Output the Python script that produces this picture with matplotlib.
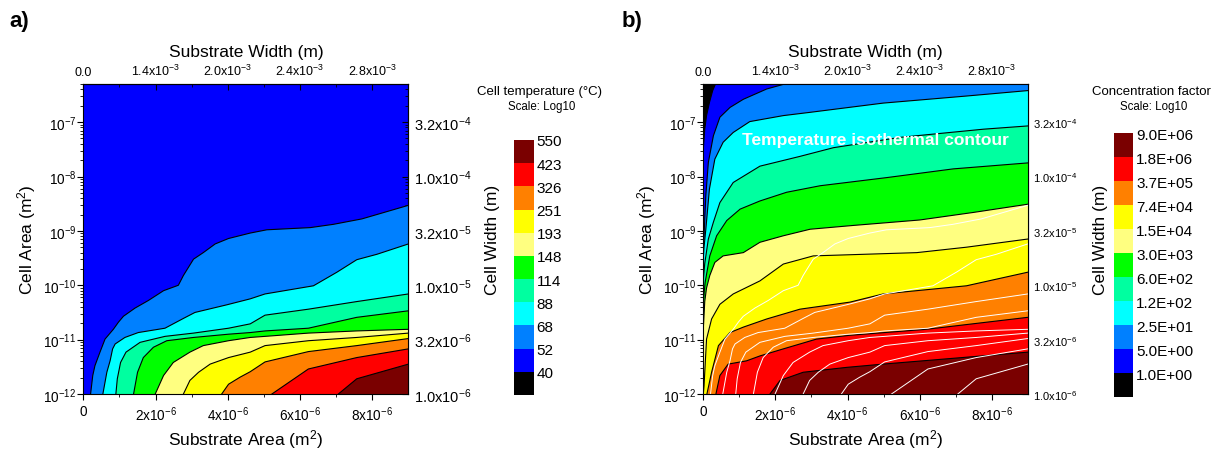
import numpy as np
import matplotlib
matplotlib.use('Agg')
import matplotlib.pyplot as plt
from matplotlib.colors import ListedColormap, BoundaryNorm
from matplotlib.cm import ScalarMappable
from matplotlib.ticker import LogLocator, NullFormatter

plt.rcParams['font.family'] = 'Liberation Sans'
plt.rcParams['mathtext.fontset'] = 'custom'
plt.rcParams['mathtext.rm'] = 'Liberation Sans'
plt.rcParams['mathtext.default'] = 'regular'

# x values in units of 1e-6 m2 (substrate area), y values as log10 of cell area (m2)
# panel a: cell temperature isotherms (lower edge of each level, °C)
temp_levels = [40, 52, 68, 88, 114, 148, 193, 251, 326, 423, 550]
temp_x = [
    [0.20, 0.26, 0.32, 0.46, 0.60, 0.83, 0.97, 1.11, 1.43, 1.80, 2.22, 2.63, 2.77, 3.05, 3.32, 3.65, 4.02, 4.62, 5.08, 6.28, 6.92, 7.71, 9.0],
    [0.54, 0.65, 0.74, 0.81, 0.88, 1.15, 1.52, 2.26, 2.77, 3.09, 3.97, 4.62, 5.03, 6.37, 7.02, 7.57, 8.13, 9.0],
    [0.90, 0.94, 1.03, 1.18, 1.57, 2.26, 3.05, 4.02, 4.62, 5.03, 6.23, 7.57, 9.0],
    [1.39, 1.50, 1.66, 1.94, 2.31, 3.05, 4.02, 4.62, 5.03, 6.23, 7.57, 9.0],
    [1.99, 2.22, 2.49, 2.95, 3.32, 4.02, 4.62, 5.03, 6.23, 7.57, 9.0],
    [2.77, 2.95, 3.19, 3.51, 4.02, 4.62, 5.03, 6.23, 7.57, 9.0],
    [3.83, 4.02, 4.34, 4.62, 5.03, 6.23, 7.57, 9.0],
    [5.22, 6.23, 7.57, 9.0],
    [7.06, 7.57, 9.0],
]
temp_logy = [
    [-12.00, -11.66, -11.48, -11.23, -10.99, -10.81, -10.68, -10.57, -10.42, -10.28, -10.10, -10.00, -9.82, -9.52, -9.40, -9.24, -9.14, -9.04, -8.98, -8.94, -8.88, -8.78, -8.53],
    [-12.00, -11.60, -11.39, -11.17, -11.08, -10.96, -10.87, -10.79, -10.61, -10.50, -10.36, -10.25, -10.16, -10.01, -9.76, -9.53, -9.43, -9.24],
    [-12.00, -11.72, -11.42, -11.23, -11.05, -10.94, -10.88, -10.79, -10.71, -10.55, -10.44, -10.30, -10.16],
    [-12.00, -11.60, -11.33, -11.14, -11.02, -10.96, -10.90, -10.87, -10.84, -10.79, -10.59, -10.47],
    [-12.00, -11.66, -11.42, -11.23, -11.11, -11.02, -10.96, -10.94, -10.88, -10.84, -10.81],
    [-12.00, -11.75, -11.60, -11.45, -11.33, -11.23, -11.11, -11.02, -10.96, -10.88],
    [-12.00, -11.82, -11.69, -11.59, -11.41, -11.22, -11.11, -10.98],
    [-12.00, -11.54, -11.33, -11.17],
    [-12.00, -11.72, -11.45],
]

# panel b: concentration factor contours
conc_levels = [1.0, 5.0, 25, 120, 600, 3000, 1.5e4, 7.4e4, 3.7e5, 1.8e6, 9.0e6]
conc_x = [
    [0.0, 0.04, 0.09, 0.17, 0.26, 0.35],
    [0.0, 0.02, 0.07, 0.14, 0.28, 0.46, 0.74, 1.11, 1.76, 2.36],
    [0.0, 0.02, 0.07, 0.17, 0.32, 0.55, 0.83, 1.29, 2.22, 2.96, 4.99, 7.30, 9.0],
    [0.0, 0.04, 0.14, 0.28, 0.46, 0.83, 1.57, 2.68, 3.61, 5.46, 7.77, 9.0],
    [0.0, 0.05, 0.18, 0.37, 0.65, 1.02, 1.57, 2.31, 3.24, 5.09, 6.93, 9.0],
    [0.0, 0.04, 0.09, 0.18, 0.32, 0.55, 1.11, 1.57, 2.22, 2.96, 4.16, 6.00, 7.50, 9.0],
    [0.0, 0.02, 0.09, 0.23, 0.46, 0.83, 1.57, 2.22, 3.05, 5.92, 7.30, 9.0],
    [0.10, 0.23, 0.42, 0.74, 1.11, 1.76, 2.68, 4.07, 4.99, 7.30, 9.0],
    [0.35, 0.46, 0.69, 1.20, 1.57, 2.22, 3.14, 4.07, 6.19, 9.0],
    [1.85, 2.13, 2.77, 3.98, 4.99, 9.0],
]
conc_logy = [
    [-7.50, -7.13, -6.88, -6.64, -6.42, -6.28],
    [-9.20, -9.09, -8.35, -7.74, -7.25, -6.91, -6.73, -6.58, -6.39, -6.28],
    [-9.50, -9.30, -8.97, -8.23, -7.68, -7.37, -7.19, -6.99, -6.88, -6.82, -6.65, -6.52, -6.42],
    [-9.90, -9.60, -9.15, -8.84, -8.48, -8.11, -7.81, -7.63, -7.47, -7.28, -7.13, -7.07],
    [-10.30, -9.95, -9.46, -9.09, -8.81, -8.60, -8.45, -8.29, -8.17, -8.02, -7.86, -7.75],
    [-10.80, -10.30, -10.05, -9.82, -9.58, -9.46, -9.40, -9.21, -9.09, -8.97, -8.90, -8.80, -8.66, -8.51],
    [-12.00, -11.85, -10.99, -10.62, -10.35, -10.16, -9.92, -9.61, -9.46, -9.40, -9.30, -9.15],
    [-12.00, -11.60, -11.11, -10.87, -10.77, -10.62, -10.44, -10.31, -10.16, -10.01, -9.76],
    [-12.00, -11.66, -11.45, -11.39, -11.30, -11.17, -10.99, -10.92, -10.81, -10.59],
    [-12.00, -11.75, -11.60, -11.51, -11.45, -11.23],
]

level_colors = ['#000000', '#0000ff', '#0080ff', '#00ffff', '#00ffa0', '#00ff00',
                '#ffff80', '#ffff00', '#ff8000', '#ff0000', '#7a0000']

area_ticks = [0, 2e-6, 4e-6, 6e-6, 8e-6]
area_labels = ['0', '$2x10^{-6}$', '$4x10^{-6}$', '$6x10^{-6}$', '$8x10^{-6}$']
width_labels = ['0.0', '$1.4x10^{-3}$', '$2.0x10^{-3}$', '$2.4x10^{-3}$', '$2.8x10^{-3}$']
cell_ticks = [1e-12, 1e-11, 1e-10, 1e-9, 1e-8, 1e-7]
cell_labels = ['$10^{-12}$', '$10^{-11}$', '$10^{-10}$', '$10^{-9}$', '$10^{-8}$', '$10^{-7}$']
cwidth_labels = ['$1.0x10^{-6}$', '$3.2x10^{-6}$', '$1.0x10^{-5}$', '$3.2x10^{-5}$',
                 '$1.0x10^{-4}$', '$3.2x10^{-4}$']

XMAX = 9e-6
YMIN, YMAX = 1e-12, 10 ** -6.29


def fill_above(ax, xs, ly, color):
    # region to the lower right of a contour line
    x = np.array(xs) * 1e-6
    y = 10.0 ** np.array(ly)
    px = np.concatenate([x, [2 * XMAX, 2 * XMAX, x[0]]])
    py = np.concatenate([y, [1e-3, 1e-15, 1e-15]])
    ax.fill(px, py, color=color, lw=0)


def setup_axes(ax, right_size):
    ax.set_xlim(0, XMAX)
    ax.set_yscale('log')
    ax.set_ylim(YMIN, YMAX)
    ax.set_xticks(area_ticks, area_labels)
    ax.set_xticks([1e-6, 3e-6, 5e-6, 7e-6], minor=True)
    ax.set_yticks(cell_ticks, cell_labels)
    ax.yaxis.set_minor_locator(LogLocator(subs=np.arange(2, 10)))
    ax.yaxis.set_minor_formatter(NullFormatter())
    ax.tick_params(which='major', direction='out', length=4, labelsize=9.8)
    ax.tick_params(which='minor', direction='out', length=2.5)
    ax.tick_params(axis='y', pad=1)
    ax.set_xlabel('Substrate Area (m$^2$)', fontsize=12.5, labelpad=3)
    ax.set_ylabel('Cell Area (m$^2$)', fontsize=12.5, labelpad=4)

    top = ax.secondary_xaxis('top')
    top.set_xticks(area_ticks, width_labels)
    top.set_xticks([1e-6, 3e-6, 5e-6, 7e-6], minor=True)
    top.tick_params(which='major', direction='in', length=4, labelsize=9, pad=4)
    top.tick_params(which='minor', direction='in', length=2.5)
    top.set_xlabel('Substrate Width (m)', fontsize=12.5, labelpad=5)

    right = ax.secondary_yaxis('right')
    right.set_yticks(cell_ticks, cwidth_labels)
    right.yaxis.set_minor_locator(LogLocator(subs=np.arange(2, 10)))
    right.yaxis.set_minor_formatter(NullFormatter())
    right.tick_params(which='major', direction='in', length=4, labelsize=right_size, pad=4)
    right.tick_params(which='minor', direction='in', length=2.5)
    return right


def add_colorbar(fig, rect, levels, labels, title, tx, ty):
    cax = fig.add_axes(rect)
    cmap = ListedColormap(level_colors[1:])
    cmap.set_under(level_colors[0])
    norm = BoundaryNorm(levels, cmap.N)
    cb = fig.colorbar(ScalarMappable(norm=norm, cmap=cmap), cax=cax, extend='min',
                      extendrect=True, extendfrac='auto', spacing='uniform', ticks=levels)
    cb.set_ticklabels(labels)
    cb.outline.set_visible(False)
    cax.tick_params(length=0, labelsize=11, pad=2)
    fig.text(tx, ty, title, ha='center', va='center', fontsize=9.5)
    fig.text(tx + 0.002, ty - 0.033, 'Scale: Log10', ha='center', va='center', fontsize=8.3)


fig = plt.figure(figsize=(12.17, 4.52), dpi=100)

# ---- a) cell temperature
ax_a = fig.add_axes([0.0685, 0.1261, 0.2671, 0.6869])
ax_a.set_facecolor(level_colors[1])
for i in range(len(temp_x)):
    fill_above(ax_a, temp_x[i], temp_logy[i], level_colors[i + 2])
for i in range(len(temp_x)):
    ax_a.plot(np.array(temp_x[i]) * 1e-6, 10.0 ** np.array(temp_logy[i]), color='k', lw=0.8)
right_a = setup_axes(ax_a, 10.5)
right_a.set_ylabel('Cell Width (m)', fontsize=12.5, labelpad=10)
add_colorbar(fig, [0.4223, 0.1239, 0.0164, 0.5642], temp_levels,
             [str(v) for v in temp_levels], 'Cell temperature (°C)', 0.4431, 0.796)

# ---- b) concentration factor with temperature isotherms
ax_b = fig.add_axes([0.5779, 0.1261, 0.2666, 0.6869])
ax_b.set_facecolor(level_colors[0])
for i in range(len(conc_x)):
    fill_above(ax_b, conc_x[i], conc_logy[i], level_colors[i + 1])
for i in range(len(conc_x)):
    ax_b.plot(np.array(conc_x[i]) * 1e-6, 10.0 ** np.array(conc_logy[i]), color='k', lw=0.8)
for i in range(len(temp_x)):
    ax_b.plot(np.array(temp_x[i]) * 1e-6, 10.0 ** np.array(temp_logy[i]), color='white', lw=0.7)
right_b = setup_axes(ax_b, 8)
right_b.set_ylabel('Cell Width (m)', fontsize=12.5, labelpad=11)
ax_b.text(0.532, 0.82, 'Temperature isothermal contour', transform=ax_b.transAxes,
          ha='center', va='center', color='white', fontsize=12.5, fontweight='bold')
add_colorbar(fig, [0.9156, 0.1188, 0.0156, 0.5847], conc_levels,
             [f'{v:.1E}' for v in conc_levels], 'Concentration factor', 0.9458, 0.797)

fig.text(0.008, 0.975, 'a)', fontsize=16, fontweight='bold', va='top')
fig.text(0.511, 0.975, 'b)', fontsize=16, fontweight='bold', va='top')

fig.savefig('out.png', dpi=100)
